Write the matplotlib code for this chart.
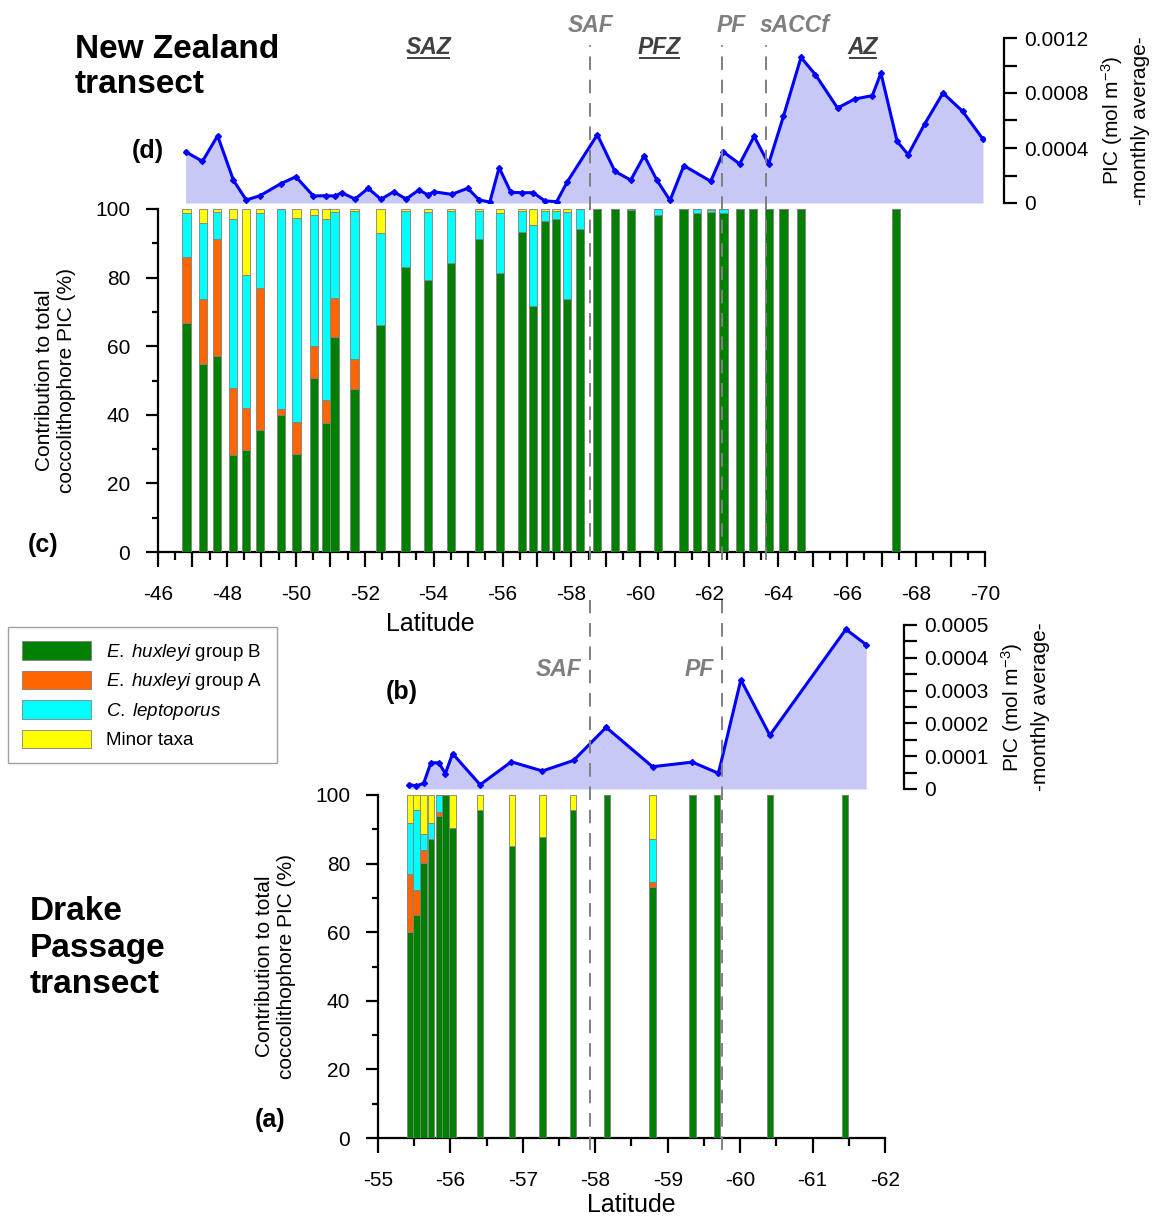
import numpy as np
import matplotlib
matplotlib.use('Agg')
import matplotlib.pyplot as plt
from matplotlib.patches import Patch
from matplotlib.lines import Line2D
from matplotlib.ticker import MultipleLocator, FuncFormatter
from matplotlib.transforms import blended_transform_factory

plt.rcParams['font.family'] = ['Liberation Sans', 'DejaVu Sans']
plt.rcParams['axes.unicode_minus'] = False
plt.rcParams['mathtext.fontset'] = 'custom'
plt.rcParams['mathtext.rm'] = 'Liberation Sans'
plt.rcParams['mathtext.it'] = 'Liberation Sans:italic'
plt.rcParams['mathtext.bf'] = 'Liberation Sans:bold'

############################################################################
#      Dati: transetto Nuova Zelanda                                       #
############################################################################

# PIC medio mensile (linea, pannello d)
nz_pic_lat = [-46.80, -47.29, -47.73, -48.19, -48.56, -48.96, -49.56, -50.00, -50.51, -50.88,
              -51.14, -51.33, -51.72, -52.10, -52.47, -52.84, -53.20, -53.57, -53.84, -54.00,
              -54.52, -54.99, -55.32, -55.63, -55.90, -56.24, -56.56, -56.89, -57.23, -57.57,
              -57.88, -58.75, -59.26, -59.72, -60.11, -60.48, -60.86, -61.26, -62.04, -62.41,
              -62.88, -63.30, -63.72, -64.15, -64.66, -65.08, -65.72, -66.22, -66.73, -66.98,
              -67.45, -67.77, -68.25, -68.78, -69.35, -69.94]
nz_pic = [0.000373, 0.000303, 0.000489, 0.000165, 0.000022, 0.000053, 0.000140, 0.000191, 0.000051, 0.000053,
          0.000051, 0.000075, 0.000029, 0.000107, 0.000027, 0.000082, 0.000029, 0.000095, 0.000058, 0.000082,
          0.000063, 0.000107, 0.000022, 0.000007, 0.000257, 0.000078, 0.000075, 0.000075, 0.000015, 0.000010,
          0.000155, 0.000497, 0.000230, 0.000167, 0.000345, 0.000165, 0.000019, 0.000272, 0.000158, 0.000371,
          0.000284, 0.000485, 0.000284, 0.000630, 0.001059, 0.000933, 0.000691, 0.000756, 0.000781, 0.000945,
          0.000448, 0.000352, 0.000575, 0.000800, 0.000667, 0.000465]

# Contributo al PIC totale (barre, pannello c)
nz_lat = [-46.83, -47.30, -47.72, -48.18, -48.56, -48.96, -49.56, -50.02, -50.53, -50.88,
          -51.12, -51.70, -52.46, -53.18, -53.83, -54.50, -55.31, -55.92, -56.57, -56.89,
          -57.23, -57.56, -57.88, -58.25, -58.75, -59.26, -59.73, -60.50, -61.25, -61.64,
          -62.04, -62.41, -62.90, -63.27, -63.73, -64.15, -64.65, -67.42]
nz_ehux_b = [66.7, 54.7, 57.1, 28.2, 29.7, 35.5, 39.8, 28.5, 50.8, 37.6,
             62.8, 47.6, 66.3, 83.0, 79.2, 84.2, 91.3, 81.2, 93.2, 71.7,
             96.6, 97.1, 73.8, 94.1, 100, 100, 99.7, 98.2, 100, 98.7,
             99.2, 98.7, 100, 100, 100, 100, 100, 100]
nz_ehux_a = [19.2, 19.0, 34.1, 19.7, 12.4, 41.4, 1.9, 9.3, 9.4, 6.7,
             11.3, 8.8, 0, 0, 0, 0, 0, 0, 0, 0,
             0, 0, 0, 0, 0, 0, 0, 0, 0, 0,
             0, 0, 0, 0, 0, 0, 0, 0]
nz_clepto = [13.0, 22.1, 8.0, 49.2, 38.6, 22.0, 58.2, 59.5, 38.0, 52.7,
             25.1, 43.1, 26.6, 16.5, 20.0, 15.3, 8.2, 17.7, 6.3, 23.6,
             2.9, 2.4, 25.4, 5.8, 0, 0, 0.3, 1.7, 0, 1.2,
             0.6, 1.2, 0, 0, 0, 0, 0, 0]
nz_minor = [1.1, 4.2, 0.8, 2.9, 19.3, 1.1, 0.1, 2.7, 1.8, 3.0,
            0.8, 0.5, 7.1, 0.5, 0.8, 0.5, 0.5, 1.1, 0.5, 4.7,
            0.5, 0.5, 0.8, 0.1, 0, 0, 0, 0.1, 0, 0.1,
            0.2, 0.1, 0, 0, 0, 0, 0, 0]

nz_front_lat = [-58.54, -62.37, -63.64]
nz_front_name = ['SAF', 'PF', 'sACCf']
nz_zone_lat = [-53.85, -60.55, -66.45]
nz_zone_name = ['SAZ', 'PFZ', 'AZ']

############################################################################
#      Dati: transetto Drake Passage                                       #
############################################################################

dp_pic_lat = [-55.43, -55.53, -55.63, -55.73, -55.84, -55.93, -56.03, -56.41, -56.84, -57.27,
              -57.70, -58.15, -58.79, -59.34, -59.70, -60.01, -60.41, -61.46, -61.74]
dp_pic = [0.000013, 0.000010, 0.000017, 0.000080, 0.000080, 0.000047, 0.000108, 0.000013, 0.000083, 0.000055,
          0.000087, 0.000188, 0.000068, 0.000082, 0.000048, 0.000333, 0.000164, 0.000487, 0.000440]

dp_lat = [-55.44, -55.53, -55.63, -55.73, -55.84, -55.93, -56.03, -56.41, -56.85, -57.27,
          -57.69, -58.16, -58.79, -59.34, -59.68, -60.41, -61.45]
dp_ehux_b = [60.1, 65.0, 80.3, 87.1, 93.8, 100, 90.4, 95.5, 85.1, 87.8,
             95.7, 100, 73.2, 100, 100, 100, 100]
dp_ehux_a = [17.0, 7.3, 3.8, 0, 1.1, 0, 0, 0, 0, 0,
             0, 0, 1.5, 0, 0, 0, 0]
dp_clepto = [14.6, 23.4, 4.6, 4.8, 5.1, 0, 0, 0, 0, 0,
             0, 0, 12.4, 0, 0, 0, 0]
dp_minor = [8.3, 4.3, 11.3, 8.1, 0, 0, 9.6, 4.5, 14.9, 12.2,
            4.3, 0, 12.9, 0, 0, 0, 0]

dp_front_lat = [-57.93, -59.75]
dp_front_name = ['SAF', 'PF']

taxa = [r'$\mathit{E.\;huxleyi}$ group B', r'$\mathit{E.\;huxleyi}$ group A',
        r'$\mathit{C.\;leptoporus}$', 'Minor taxa']
colors = ['#007f00', '#ff6600', '#00ffff', '#ffff00']

W, H = 1155, 1216


def fx(px):
    return px / W


def fy(py):
    return 1 - py / H


def stacked_bars(ax, lat, parts, width):
    bottom = np.zeros(len(lat))
    for vals, col in zip(parts, colors):
        vals = np.array(vals)
        ax.bar(lat, vals, width, bottom=bottom, color=col, edgecolor='#7f7f7f', linewidth=0.6, zorder=3)
        bottom += vals


def style_bar_axes(ax, xlim, label_step):
    ax.set_xlim(*xlim)
    ax.set_ylim(0, 100)
    for s in ['top', 'right']:
        ax.spines[s].set_visible(False)
    for s in ['left', 'bottom']:
        ax.spines[s].set_linewidth(1.6)
    ax.xaxis.set_major_locator(MultipleLocator(1))
    ax.xaxis.set_minor_locator(MultipleLocator(0.5))
    ax.xaxis.set_major_formatter(FuncFormatter(
        lambda v, p: f'{v:.0f}' if int(round(v)) % label_step == 0 else ''))
    ax.yaxis.set_major_locator(MultipleLocator(20))
    ax.yaxis.set_minor_locator(MultipleLocator(10))
    ax.tick_params(which='both', direction='out', width=1.6, labelsize=15, color='black')
    ax.tick_params(axis='y', which='major', length=9, pad=11)
    ax.tick_params(axis='y', which='minor', length=4)
    ax.tick_params(axis='x', which='major', length=11, pad=13)
    ax.tick_params(axis='x', which='minor', length=5.5)
    ax.set_xlabel('Latitude', fontsize=18, labelpad=2)
    ax.set_ylabel('Contribution to total\ncoccolithophore PIC (%)', fontsize=15, labelpad=14)


def style_line_axes(ax, xlim, ymax, major, minor):
    ax.set_xlim(*xlim)
    ax.set_ylim(0, ymax)
    ax.patch.set_alpha(0)
    for s in ['top', 'left', 'bottom']:
        ax.spines[s].set_visible(False)
    ax.spines['right'].set_position(('outward', 14))
    ax.spines['right'].set_linewidth(1.6)
    ax.set_xticks([])
    ax.yaxis.tick_right()
    ax.yaxis.set_label_position('right')
    ax.yaxis.set_major_locator(MultipleLocator(major))
    ax.yaxis.set_minor_locator(MultipleLocator(minor))
    ax.yaxis.set_major_formatter(FuncFormatter(lambda v, p: '0' if abs(v) < 1e-12 else f'{v:.4f}'))
    ax.tick_params(which='both', direction='out', length=9, width=1.6, labelsize=15, pad=5)
    ax.set_ylabel('PIC (mol m$^{-3}$)\n-monthly average-', fontsize=15, labelpad=8, linespacing=1.4)


def front_lines(fig, ax, lats, ytop, ybot):
    tr = blended_transform_factory(ax.transData, fig.transFigure)
    for lat in lats:
        fig.add_artist(Line2D([lat, lat], [fy(ybot), fy(ytop)], transform=tr, color='#808080',
                              lw=1.4, ls=(0, (7, 5)), zorder=5))


fig = plt.figure(figsize=(W / 100, H / 100), dpi=100)

#--------------------------------------------------------------------------------#
#                New Zealand transect                                            #
#--------------------------------------------------------------------------------#
ax_c = fig.add_axes([fx(158), fy(552), fx(985 - 158), (552 - 209) / H])
stacked_bars(ax_c, nz_lat, [nz_ehux_b, nz_ehux_a, nz_clepto, nz_minor], 0.24)
style_bar_axes(ax_c, (-46, -70), 2)
ax_c.xaxis.set_label_coords((430 - 158) / (985 - 158), -0.175)

ax_d = fig.add_axes([fx(158), fy(203), fx(985 - 158), (203 - 38) / H])
ax_d.fill_between(nz_pic_lat, 0, nz_pic, color='#c8c8f6', lw=0)
ax_d.plot(nz_pic_lat, nz_pic, color='#0000ff', lw=2.2, marker='D', ms=3)
style_line_axes(ax_d, (-46, -70), 0.0012, 0.0004, 0.0002)

front_lines(fig, ax_c, nz_front_lat, 45, 560)
tr_c = blended_transform_factory(ax_c.transData, fig.transFigure)
front_dx = {'SAF': 0.0, 'PF': 0.27, 'sACCf': 0.85}
for lat, name in zip(nz_front_lat, nz_front_name):
    fig.text(lat - front_dx[name], fy(25), name, transform=tr_c, ha='center', va='center',
             fontsize=16.5, fontweight='bold', style='italic', color='#7f7f7f')

zone_texts = []
for lat, name in zip(nz_zone_lat, nz_zone_name):
    t = fig.text(lat, fy(48), name, transform=tr_c, ha='center', va='center',
                 fontsize=16.5, fontweight='bold', style='italic', color='#404040')
    zone_texts.append(t)

fig.text(fx(75), fy(67), 'New Zealand\ntransect', fontsize=24, fontweight='bold', ha='left',
         va='center', linespacing=1.2)
fig.text(fx(148), fy(151), '(d)', fontsize=18, fontweight='bold', ha='center', va='center')
fig.text(fx(43), fy(545), '(c)', fontsize=18, fontweight='bold', ha='center', va='center')

#--------------------------------------------------------------------------------#
#                Drake Passage transect                                          #
#--------------------------------------------------------------------------------#
ax_a = fig.add_axes([fx(378), fy(1138), fx(885 - 378), (1138 - 795) / H])
stacked_bars(ax_a, dp_lat, [dp_ehux_b, dp_ehux_a, dp_clepto, dp_minor], 0.09)
style_bar_axes(ax_a, (-55, -62), 1)

ax_b = fig.add_axes([fx(378), fy(789), fx(885 - 378), (789 - 625) / H])
ax_b.fill_between(dp_pic_lat, 0, dp_pic, color='#c8c8f6', lw=0)
ax_b.plot(dp_pic_lat, dp_pic, color='#0000ff', lw=2.2, marker='D', ms=3)
style_line_axes(ax_b, (-55, -62), 0.0005, 0.0001, 0.00005)

front_lines(fig, ax_a, dp_front_lat, 600, 1150)
tr_a = blended_transform_factory(ax_a.transData, fig.transFigure)
for lat, name in zip(dp_front_lat, dp_front_name):
    fig.text(lat + 0.12, fy(670), name, transform=tr_a, ha='right', va='center',
             fontsize=16.5, fontweight='bold', style='italic', color='#7f7f7f')

fig.text(fx(30), fy(948), 'Drake\nPassage\ntransect', fontsize=24, fontweight='bold', ha='left',
         va='center', linespacing=1.22)
fig.text(fx(402), fy(692), '(b)', fontsize=18, fontweight='bold', ha='center', va='center')
fig.text(fx(270), fy(1120), '(a)', fontsize=18, fontweight='bold', ha='center', va='center')

# Legenda
handles = [Patch(facecolor=c, edgecolor='#7f7f7f', linewidth=0.6) for c in colors]
leg = fig.legend(handles, taxa, loc='upper left', bbox_to_anchor=(fx(8), fy(627)), fontsize=13.5,
                 handlelength=3.7, handleheight=1.15, handletextpad=0.8, labelspacing=0.42,
                 borderpad=0.75, borderaxespad=0, fancybox=False, edgecolor='#a0a0a0', framealpha=1)
leg.get_frame().set_linewidth(1.0)

# Sottolineatura delle zone (dalla larghezza reale del testo)
fig.canvas.draw()
inv = fig.transFigure.inverted()
for t in zone_texts:
    bb = t.get_window_extent()
    (x0, y0), (x1, _) = inv.transform([[bb.x0, bb.y0], [bb.x1, bb.y1]])
    fig.add_artist(Line2D([x0 + 0.002, x1 - 0.002], [y0 + 0.0015, y0 + 0.0015],
                          transform=fig.transFigure, color='#404040', lw=1.4))

fig.savefig('out.png', dpi=100)
